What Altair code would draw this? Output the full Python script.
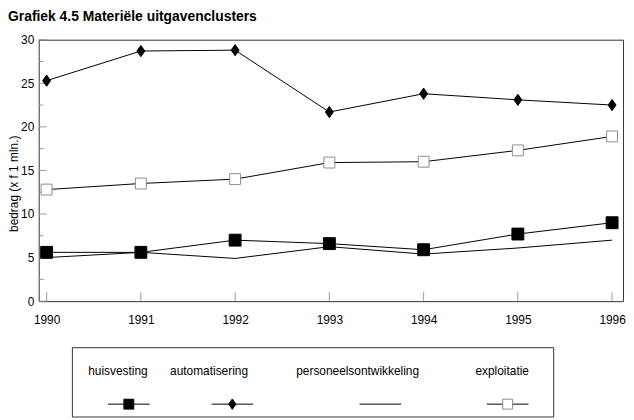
import altair as alt
import pandas as pd

# ---- data ----
YEARS = [1990, 1991, 1992, 1993, 1994, 1995, 1996]
SERIES = ["huisvesting", "automatisering", "personeelsontwikkeling", "exploitatie"]
HUISVESTING = [5.6, 5.6, 7.0, 6.6, 5.9, 7.7, 9.0]
AUTOMATISERING = [25.3, 28.7, 28.8, 21.7, 23.8, 23.1, 22.5]
PERSONEEL = [5.0, 5.6, 4.9, 6.25, 5.4, 6.1, 7.0]
EXPLOITATIE = [12.8, 13.5, 14.0, 15.9, 16.0, 17.3, 18.9]
Y_MAJOR = [0, 5, 10, 15, 20, 25, 30]
Y_MINOR = [2.5, 7.5, 12.5, 17.5, 22.5, 27.5]

TITLE = "Grafiek 4.5  Materiële uitgavenclusters"
Y_TITLE = "bedrag (x f 1 mln.)"

values = dict(zip(SERIES, [HUISVESTING, AUTOMATISERING, PERSONEEL, EXPLOITATIE]))
df = pd.DataFrame(
    [{"jaar": y, "reeks": s, "bedrag": v} for s in SERIES for y, v in zip(YEARS, values[s])]
)

# ---- styling / layout ----
W, H = 590, 264
FONT = "Liberation Sans"
DIAMOND = "M0,-1L0.7,0L0,1L-0.7,0Z"
MARKERS = {
    "huisvesting": dict(shape="square", size=144, fill="black", stroke="black"),
    "automatisering": dict(shape=DIAMOND, size=130, fill="black", stroke="black"),
    "exploitatie": dict(shape="square", size=121, fill="white", stroke="#8c8c8c"),
}
LEG_MARKERS = {
    "huisvesting": dict(shape="square", size=100, fill="black", stroke="black"),
    "automatisering": dict(shape=DIAMOND, size=110, fill="black", stroke="black"),
    "exploitatie": dict(shape="square", size=100, fill="white", stroke="#8c8c8c"),
}
OFF = -4  # plot area starts 4px further right than the reference's 34px
LEG_LABEL_X = [84 + OFF, 176 + OFF, 326 + OFF, 472 + OFF]
LEG_SYM_X = [95 + OFF, 199.5 + OFF, 349 + OFF, 477.5 + OFF]
LEG_LABEL_Y = 335
LEG_SYM_Y = 368
LEG_BOX = (38 + OFF, 524 + OFF, 311, 381)

xscale = alt.Scale(domain=[1989.916, 1996.116], nice=False, zero=False)
yscale = alt.Scale(domain=[0, 30], nice=False, zero=False)

xaxis = alt.Axis(values=YEARS, format="d", ticks=False, domain=False, grid=False,
                 labelFont=FONT, labelFontSize=12, labelPadding=14, labelColor="black",
                 labelFlush=False, title=None)
yaxis = alt.Axis(values=Y_MAJOR, ticks=False, domain=False, grid=False,
                 labelFont=FONT, labelFontSize=12, labelPadding=5, labelColor="black",
                 title=Y_TITLE, titleFont=FONT, titleFontSize=12, titleFontWeight="normal",
                 titleColor="black", titleX=-18, titleY=145, titleAlign="center",
                 titleBaseline="bottom")

X = alt.X("jaar:Q", scale=xscale, axis=xaxis)
Y = alt.Y("bedrag:Q", scale=yscale, axis=yaxis)

base = alt.Chart(df).encode(x=X, y=Y)

layers = []

# inside ticks
layers.append(
    alt.Chart(pd.DataFrame({"bedrag": Y_MAJOR})).mark_rule(color="#999999", strokeWidth=1).encode(
        y=Y, x=alt.value(0), x2=alt.value(8))
)
layers.append(
    alt.Chart(pd.DataFrame({"bedrag": Y_MINOR})).mark_rule(color="#999999", strokeWidth=1).encode(
        y=Y, x=alt.value(0), x2=alt.value(5))
)
layers.append(
    alt.Chart(pd.DataFrame({"jaar": YEARS})).mark_rule(color="#999999", strokeWidth=1).encode(
        x=X, y=alt.value(H), y2=alt.value(H - 9))
)

# lines
layers.append(base.mark_line(color="black", strokeWidth=1).encode(detail="reeks:N"))

# markers
for s, m in MARKERS.items():
    layers.append(
        base.transform_filter(alt.datum.reeks == s).mark_point(
            filled=True, opacity=1, strokeWidth=1, **m)
    )

# legend (drawn below the plot)
leg_df = pd.DataFrame({"reeks": SERIES})
x0, x1, y0, y1 = LEG_BOX
layers.append(
    alt.Chart(pd.DataFrame({"reeks": [SERIES[0]]})).mark_rect(
        fillOpacity=0, stroke="#333333", strokeWidth=1).encode(
        x=alt.value(x0), x2=alt.value(x1), y=alt.value(y0), y2=alt.value(y1))
)
for i, s in enumerate(SERIES):
    one = alt.Chart(leg_df).transform_filter(alt.datum.reeks == s)
    layers.append(
        one.mark_text(font=FONT, fontSize=12, color="black", align="center",
                      baseline="middle").encode(
            text="reeks:N", x=alt.value(LEG_LABEL_X[i]), y=alt.value(LEG_LABEL_Y))
    )
    layers.append(
        one.mark_rule(color="black", strokeWidth=1).encode(
            x=alt.value(LEG_SYM_X[i] - 21), x2=alt.value(LEG_SYM_X[i] + 21),
            y=alt.value(LEG_SYM_Y))
    )
    if s in LEG_MARKERS:
        layers.append(
            one.mark_point(filled=True, opacity=1, strokeWidth=1, **LEG_MARKERS[s]).encode(
                x=alt.value(LEG_SYM_X[i]), y=alt.value(LEG_SYM_Y))
        )

chart = alt.layer(*layers).properties(
    width=W, height=H, padding=0, background="white",
    title=alt.TitleParams(TITLE, anchor="start", frame="bounds", font=FONT, fontSize=14,
                          fontWeight="bold", color="black", offset=10),
).configure_view(stroke="#333333", strokeWidth=1)

chart.save("out.html", embed_options={"renderer": "svg", "actions": False})
